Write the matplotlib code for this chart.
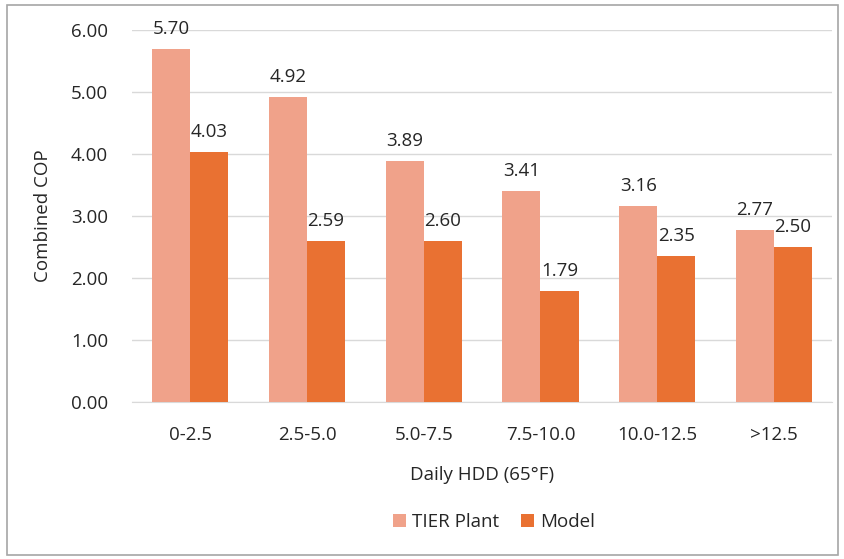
import numpy as np
import matplotlib
matplotlib.use('Agg')
from matplotlib import pyplot as plt
from matplotlib.patches import Rectangle

plt.rcParams['font.family'] = ['Open Sans', 'DejaVu Sans']

categories = ['0-2.5', '2.5-5.0', '5.0-7.5', '7.5-10.0', '10.0-12.5', '>12.5']
tier_plant = [5.70, 4.92, 3.89, 3.41, 3.16, 2.77]
model = [4.03, 2.59, 2.60, 1.79, 2.35, 2.50]

c_tier = '#F0A28A'
c_model = '#E97132'
txt = '#262626'
fs = 13.5

fig = plt.figure(figsize=(8.45, 5.59), dpi=100)
ax = fig.add_axes([0.156, 0.281, 0.829, 0.665])

x = np.arange(len(categories))
w = 0.326
b1 = ax.bar(x - w/2, tier_plant, w, color=c_tier, label='TIER Plant', zorder=3)
b2 = ax.bar(x + w/2, model, w, color=c_model, label='Model', zorder=3)

for bars in (b1, b2):
    for rect in bars:
        h = rect.get_height()
        ax.annotate('%.2f' % h, (rect.get_x() + rect.get_width()/2, h),
                    xytext=(0, 8), textcoords='offset points',
                    ha='center', va='bottom', fontsize=fs, color=txt)

ax.set_xlim(-0.5, len(categories) - 0.5)
ax.set_ylim(0, 6)
ax.set_yticks(np.arange(0, 7, 1))
ax.set_yticklabels(['%.2f' % v for v in np.arange(0, 7, 1)])
ax.set_xticks(x)
ax.set_xticklabels(categories)
ax.tick_params(length=0, labelsize=fs, colors=txt)
ax.tick_params(axis='x', pad=17)
ax.tick_params(axis='y', pad=17)
ax.yaxis.grid(True, color='#D9D9D9', linewidth=1, zorder=0)
for s in ['top', 'right', 'left']:
    ax.spines[s].set_visible(False)
ax.spines['bottom'].set_color('#D9D9D9')

ax.set_xlabel('Daily HDD (65°F)', fontsize=fs, color=txt, labelpad=16)
ax.set_ylabel('Combined COP', fontsize=fs, color=txt, labelpad=14)

ax.legend(loc='center', bbox_to_anchor=(0.517, -0.323), ncol=2, frameon=False,
          fontsize=fs, handlelength=0.7, handleheight=0.7, handletextpad=0.3,
          columnspacing=1.2, labelcolor=txt)

fig.patches.append(Rectangle((0.008, 0.007), 0.984, 0.984, transform=fig.transFigure,
                             fill=False, edgecolor='#A6A6A6', linewidth=1.2))

plt.savefig('out.png', dpi=100)
